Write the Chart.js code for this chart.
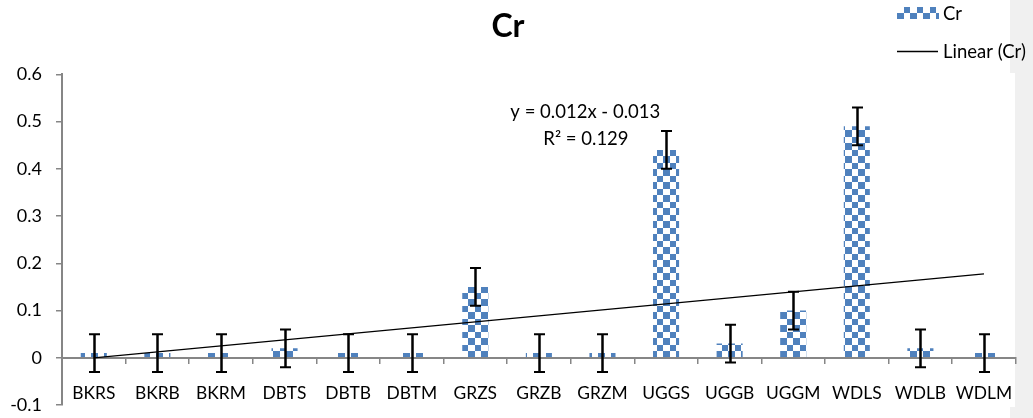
<!DOCTYPE html>
<html><head><meta charset="utf-8">
<script src="https://cdn.jsdelivr.net/npm/chart.js@4.4.1/dist/chart.umd.min.js"></script>
<style>html,body{margin:0;padding:0;background:#fff;overflow:hidden}#wrap{width:1033px;height:418px;position:relative}</style>
</head><body><div id="wrap"><canvas id="c" width="1033" height="418"></canvas></div>
<script>
const categories = ['BKRS','BKRB','BKRM','DBTS','DBTB','DBTM','GRZS','GRZB','GRZM','UGGS','UGGB','UGGM','WDLS','WDLB','WDLM'];
const crValues = [0.01,0.01,0.01,0.02,0.01,0.01,0.15,0.01,0.01,0.44,0.03,0.10,0.49,0.02,0.01];
const crErrors = [0.04,0.04,0.04,0.04,0.04,0.04,0.04,0.04,0.04,0.04,0.04,0.04,0.04,0.04,0.04];
const yTickValues = [-0.1,0,0.1,0.2,0.3,0.4,0.5,0.6];
const yTickLabels = ['-0.1','0','0.1','0.2','0.3','0.4','0.5','0.6'];
const seriesLabels = ['Cr','Linear (Cr)'];
const trendEquation = ['y = 0.012x - 0.013','R\u00B2 = 0.129'];
const chartTitle = 'Cr';

// least-squares linear trend of the Cr series (Excel "Linear (Cr)")
const n = crValues.length;
const xs = crValues.map((_, i) => i + 1);
const mx = xs.reduce((a,b)=>a+b,0)/n, my = crValues.reduce((a,b)=>a+b,0)/n;
let sxy = 0, sxx = 0;
for (let i=0;i<n;i++){ sxy += (xs[i]-mx)*(crValues[i]-my); sxx += (xs[i]-mx)*(xs[i]-mx); }
const slope = sxy/sxx, intercept = my - slope*mx;
const trendValues = xs.map(x => slope*x + intercept);

const BLUE = '#4F81BD';
function makePattern(){
  const p = document.createElement('canvas');
  p.width = 13; p.height = 13;
  const g = p.getContext('2d');
  g.fillStyle = '#ffffff'; g.fillRect(0,0,13,13);
  g.fillStyle = BLUE;
  g.fillRect(0,0,7,7);
  g.fillRect(7,7,6,6);
  return document.getElementById('c').getContext('2d').createPattern(p,'repeat');
}
const checker = makePattern();
const FONT = 'Lato';

const decor = {
  id: 'decor',
  beforeDraw(chart){
    const ctx = chart.ctx;
    ctx.save();
    ctx.fillStyle = '#ffffff';
    ctx.fillRect(0,0,chart.width,chart.height);
    ctx.fillStyle = '#f0f0f0';
    ctx.fillRect(1010,0,23,73);
    ctx.fillRect(1015,73,18,345);
    ctx.fillRect(1010,407,23,11);
    ctx.restore();
  },
  afterDatasetsDraw(chart){
    const ctx = chart.ctx;
    const ys = chart.scales.y, xsc = chart.scales.x;
    const meta = chart.getDatasetMeta(0);
    ctx.save();
    ctx.strokeStyle = '#000';
    meta.data.forEach((bar, i) => {
      const x = Math.round(bar.x) + 0.5;
      const t = ys.getPixelForValue(crValues[i] + crErrors[i]);
      const b = ys.getPixelForValue(crValues[i] - crErrors[i]);
      ctx.lineWidth = 2.5;
      ctx.beginPath(); ctx.moveTo(x, t); ctx.lineTo(x, b); ctx.stroke();
      ctx.lineWidth = 2;
      ctx.beginPath(); ctx.moveTo(x-5.5, t); ctx.lineTo(x+5.5, t);
      ctx.moveTo(x-5.5, b); ctx.lineTo(x+5.5, b); ctx.stroke();
    });
    ctx.fillStyle = '#000';
    ctx.font = '18.5px ' + FONT;
    ctx.textAlign = 'center';
    ctx.textBaseline = 'middle';
    ctx.fillText(trendEquation[0], xsc.getPixelForValue(7.73), ys.getPixelForValue(0.52));
    ctx.fillText(trendEquation[1], xsc.getPixelForValue(7.74), ys.getPixelForValue(0.464));
    ctx.restore();
  },
  afterDraw(chart){
    const ctx = chart.ctx;
    ctx.save();
    ctx.fillStyle = checker;
    ctx.fillRect(897, 7, 42, 12);
    ctx.strokeStyle = '#000';
    ctx.lineWidth = 1.5;
    ctx.beginPath(); ctx.moveTo(897, 51.5); ctx.lineTo(938, 51.5); ctx.stroke();
    ctx.fillStyle = '#000';
    ctx.font = '18.5px ' + FONT;
    ctx.textAlign = 'left';
    ctx.textBaseline = 'middle';
    ctx.fillText(chart.data.datasets[0].label, 943, 14.3);
    ctx.fillText(chart.data.datasets[1].label, 943, 52.5);
    ctx.restore();
  }
};

new Chart(document.getElementById('c'), {
  data: {
    labels: categories,
    datasets: [
      { type: 'bar', label: seriesLabels[0], data: crValues, backgroundColor: checker, borderWidth: 0,
        barPercentage: 0.41, categoryPercentage: 1.0, order: 2 },
      { type: 'line', label: seriesLabels[1], data: trendValues, borderColor: '#000', borderWidth: 1.3,
        pointRadius: 0, fill: false, tension: 0, order: 1 }
    ]
  },
  options: {
    responsive: false,
    animation: false,
    devicePixelRatio: 1,
    layout: { padding: { left: 0, right: 17, top: 0, bottom: 13 } },
    plugins: {
      legend: { display: false },
      tooltip: { enabled: false },
      title: { display: true, text: chartTitle, color: '#000',
        font: { family: FONT, size: 32, weight: 'bold', lineHeight: 1.2 },
        padding: { top: 7.2, bottom: 28.8 } }
    },
    scales: {
      x: {
        type: 'category',
        position: { y: 0 },
        offset: true,
        grid: { display: true, offset: true, drawOnChartArea: false, drawTicks: true, tickLength: 5, color: '#868686', lineWidth: 1.5 },
        border: { display: true, color: '#868686', width: 2 },
        ticks: { color: '#000', font: { family: FONT, size: 17.4 }, padding: 20.3, maxRotation: 0, autoSkip: false },
        afterFit(s){ s.height = 0; s.paddingTop = 0; s.paddingBottom = 0; }
      },
      y: {
        min: -0.1, max: 0.6,
        afterBuildTicks(s){ s.ticks = yTickValues.map(v => ({ value: v })); },
        ticks: { color: '#000', font: { family: FONT, size: 18 }, padding: 14,
          callback: (v) => { const i = yTickValues.findIndex(t => Math.abs(t - v) < 1e-9); return i >= 0 ? yTickLabels[i] : ''; } },
        grid: { drawOnChartArea: false, drawTicks: true, tickLength: 6, color: '#868686', lineWidth: 1.5 },
        border: { display: true, color: '#868686', width: 2 },
        afterFit(s){ s.width = 62; s.paddingTop = 0; s.paddingBottom = 0; }
      }
    }
  },
  plugins: [decor]
});
</script>
</body></html>
